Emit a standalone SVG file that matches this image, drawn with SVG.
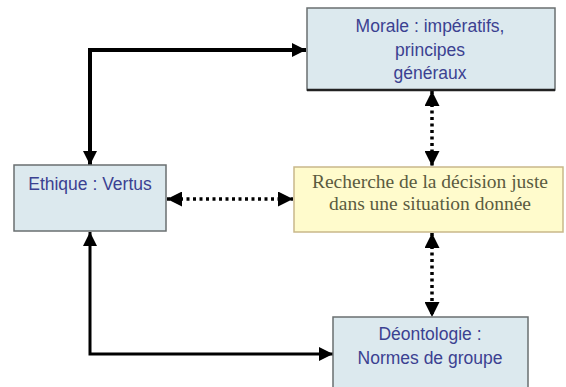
<svg xmlns="http://www.w3.org/2000/svg" width="566" height="387" viewBox="0 0 566 387">
<style>
.box{fill:#dce9ee;stroke:#6a6f70;stroke-width:1.5}
.shadow{stroke:#222;stroke-width:2.5}
.ybox{fill:#fffbcc;stroke:#c9b88a;stroke-width:1.5}
.t{font-family:"Liberation Sans",Arial,sans-serif;font-size:17.5px;fill:#3b4191;text-anchor:middle}
.s{font-family:"Liberation Serif","Times New Roman",serif;font-size:19.5px;fill:#5b5b40;text-anchor:middle}
.solid{fill:none;stroke:#000;stroke-width:4}
.solid2{fill:none;stroke:#000;stroke-width:3}
.dot{fill:none;stroke:#000;stroke-width:3.5;stroke-dasharray:3 3.5}
</style>
<defs>
<marker id="ah" viewBox="0 0 10 10" refX="10" refY="5" markerWidth="14" markerHeight="14" markerUnits="userSpaceOnUse" orient="auto-start-reverse">
<path d="M0,0 L10,5 L0,10 z" fill="#000"/>
</marker>
<marker id="ah2" viewBox="0 0 10 10" refX="10" refY="5" markerWidth="15" markerHeight="15" markerUnits="userSpaceOnUse" orient="auto-start-reverse">
<path d="M0,0 L10,5 L0,10 z" fill="#000"/>
</marker>
</defs>
<rect width="566" height="387" fill="#fff"/>
<g id="connectors">
<path class="solid" d="M306,50 H90 V165" marker-start="url(#ah)" marker-end="url(#ah)"/>
<path class="solid2" d="M90,232 V354 H333" marker-start="url(#ah)" marker-end="url(#ah)"/>
<path class="dot" d="M167,199 H293" marker-start="url(#ah2)" marker-end="url(#ah2)"/>
<path class="dot" d="M432,91 V166" marker-start="url(#ah2)" marker-end="url(#ah2)"/>
<path class="dot" d="M432,233 V317" marker-start="url(#ah2)" marker-end="url(#ah2)"/>
</g>
<g id="morale">
<rect class="box" x="307" y="8" width="248" height="82"/>
<line class="shadow" x1="307" y1="90" x2="555" y2="90"/>
<text class="t" x="430" y="32">Morale : impératifs,</text>
<text class="t" x="430" y="56">principes</text>
<text class="t" x="430" y="79">généraux</text>
</g>
<g id="ethique">
<rect class="box" x="14" y="165" width="152" height="66"/>
<text class="t" x="90" y="190">Ethique : Vertus</text>
</g>
<g id="recherche">
<rect class="ybox" x="294" y="167" width="269" height="65"/>
<text class="s" x="430" y="188">Recherche de la décision juste</text>
<text class="s" x="430" y="210">dans une situation donnée</text>
</g>
<g id="deontologie">
<rect class="box" x="333" y="317" width="195" height="80"/>
<text class="t" x="430" y="340">Déontologie :</text>
<text class="t" x="430" y="364">Normes de groupe</text>
</g>
</svg>
